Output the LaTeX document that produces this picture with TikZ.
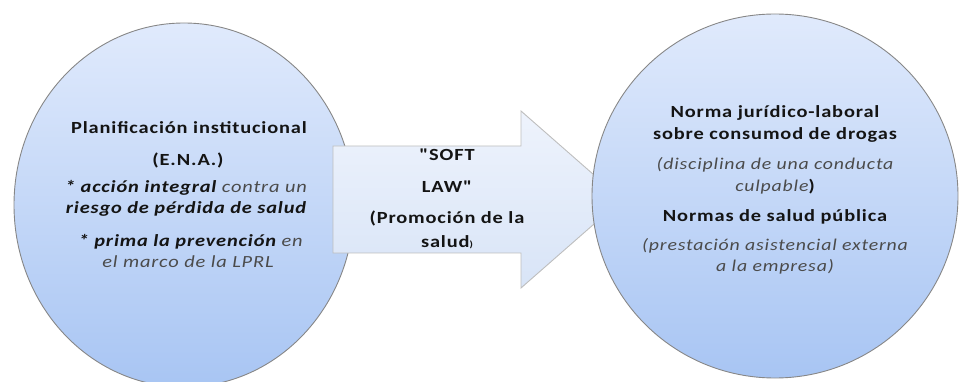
\documentclass[tikz,border=0pt]{standalone}
\usepackage{fontspec}
\setmainfont{Carlito}[FakeStretch=1.2,LetterSpace=5,Ligatures=TeXOff]
\definecolor{ctop}{RGB}{224,234,252}
\definecolor{cbot}{RGB}{168,197,243}
\definecolor{atop}{RGB}{238,243,252}
\definecolor{abot}{RGB}{216,228,247}
\definecolor{cline}{RGB}{135,135,135}
\definecolor{aline}{RGB}{190,190,190}
\definecolor{tdark}{RGB}{20,20,20}
\definecolor{tgray}{RGB}{75,75,75}
\tikzset{
  bubble/.style={draw=cline,line width=0.9pt,top color=ctop,bottom color=cbot},
  bigarrow/.style={draw=aline,line width=0.9pt,top color=atop,bottom color=abot},
  txt/.style={inner sep=0pt,align=center,text=tdark,font=\fontsize{17}{21.5}\selectfont},
}
\newcommand{\bi}[1]{{\bfseries\itshape #1}}
\newcommand{\gi}[1]{{\itshape\color{tgray}#1}}
\begin{document}
\begin{tikzpicture}[x=1pt,y=-1pt]
\useasboundingbox (0,0) rectangle (959,382);
% left circle
\path[bubble] (184,205) ellipse [x radius=170, y radius=182];
% arrow
\path[bigarrow] (333,146) -- (521,146) -- (521,111) -- (622,199.5) -- (521,288) -- (521,253) -- (333,253) -- cycle;
% right circle
\path[bubble] (775,196) ellipse [x radius=183, y radius=182];
% left texts
\node[txt,font=\fontsize{17}{21.5}\selectfont\bfseries] (l1) at (189,128) {Planificación institucional};
\node[txt,font=\fontsize{17}{21.5}\selectfont\bfseries] (l2) at (188,160) {(E.N.A.)};
\node[txt] (l3) at (186,198.5) {\bi{* acción integral} \gi{contra un}\\ \bi{riesgo de pérdida de salud}};
\node[txt] (l4) at (188,251) {\ \bi{* prima la prevención} \gi{en}\\ \gi{el marco de la LPRL}};
% arrow texts
\node[txt,font=\fontsize{17}{21.5}\selectfont\bfseries] (a1) at (447,155) {"SOFT};
\node[txt,font=\fontsize{17}{21.5}\selectfont\bfseries] (a2) at (447,187) {LAW"};
\node[txt,font=\fontsize{17}{24}\selectfont\bfseries] (a3) at (447,230) {(Promoción de la\\ salud{\fontsize{9}{9}\selectfont)}};
% right texts
\node[txt,font=\fontsize{17}{21.5}\selectfont\bfseries] (r1) at (775,124) {Norma jurídico-laboral\\ sobre consumod de drogas};
\node[txt,font=\fontsize{16.5}{21.5}\selectfont] (r2) at (775,176) {\gi{(disciplina de una conducta}\\ \gi{culpable}{\bfseries)}};
\node[txt,font=\fontsize{17}{21.5}\selectfont\bfseries] (r3) at (775,217) {Normas de salud pública};
\node[txt,font=\fontsize{16.5}{21.5}\selectfont] (r4) at (775,256.5) {\gi{(prestación asistencial externa}\\ \gi{a la empresa)}};
\end{tikzpicture}
\end{document}
